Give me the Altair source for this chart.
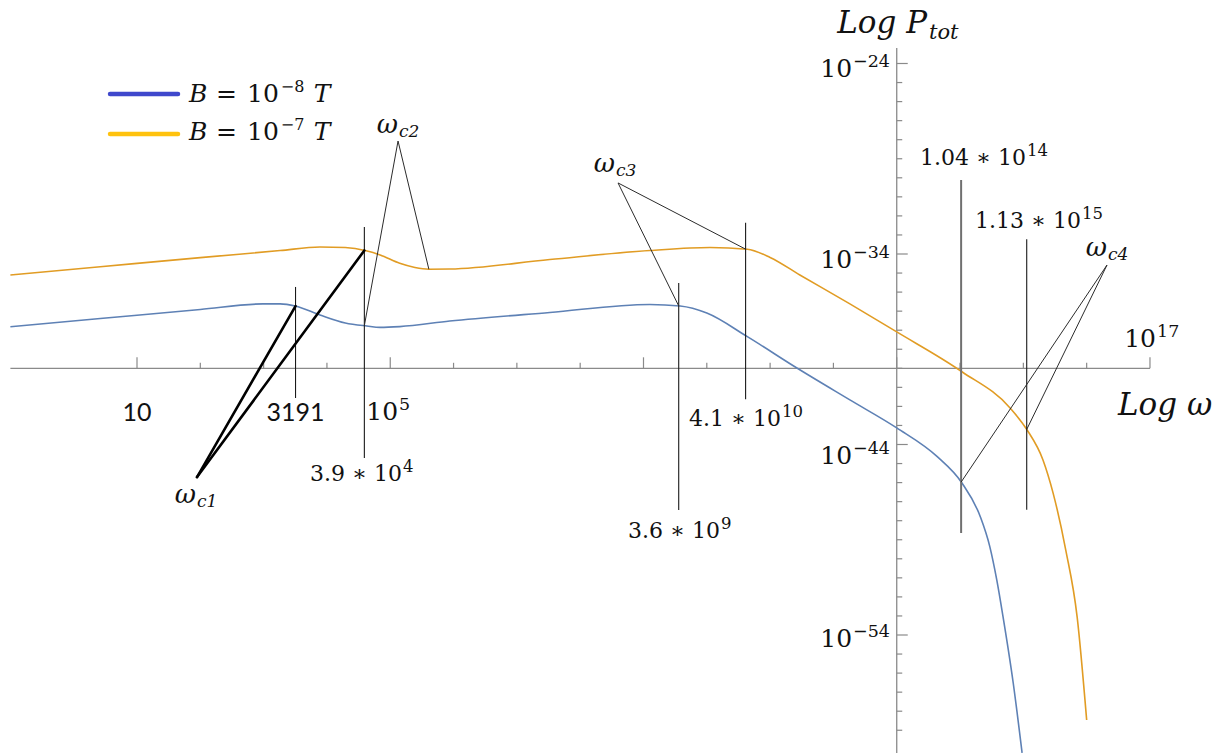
import altair as alt
import numpy as np
import pandas as pd

# ---------------- spectra: log10(omega) vs log10(P_tot) ----------------
series_names = ["B = 1e-8 T", "B = 1e-7 T"]
series_colors = ["#5E81B5", "#E19C24"]
swatch_colors = ["#3F48CC", "#FFC20E"]

log_w_b8 = [-1.0, 0.42, 2.0, 2.99, 3.26, 3.5, 3.89, 4.29, 4.63, 4.84, 5.15, 5.94,
            7.52, 9.1, 9.58, 10.0, 10.64, 11.43, 12.26, 13.0, 13.64, 14.03,
            14.32, 14.47, 14.58, 14.68, 14.84, 14.98]
log_p_b8 = [-37.82, -37.39, -36.91, -36.62, -36.62, -36.73, -37.20, -37.62, -37.78,
            -37.85, -37.81, -37.52, -37.07, -36.65, -36.73, -37.10, -38.34, -40.00,
            -41.66, -43.13, -44.64, -46.02, -47.79, -49.36, -51.11, -53.06, -56.52,
            -60.19]

log_w_b7 = [-1.0, 0.42, 2.0, 3.26, 3.89, 4.29, 4.62, 4.84, 5.15, 5.39, 5.61, 5.94,
            7.52, 9.1, 10.05, 10.64, 11.0, 11.47, 12.26, 13.0, 14.03, 14.79, 15.06,
            15.31, 15.47, 15.67, 15.85, 16.0]
log_p_b7 = [-35.10, -34.67, -34.19, -33.82, -33.63, -33.66, -33.83, -34.05, -34.49,
            -34.71, -34.80, -34.79, -34.29, -33.82, -33.66, -33.75, -34.18, -35.10,
            -36.62, -38.09, -40.18, -42.08, -43.24, -44.81, -46.55, -49.54, -53.06,
            -58.46]

# characteristic frequencies written as mantissa * 10^exponent
mark_mant = [3.9, 3.6, 4.1, 1.04, 1.13]
mark_exp = [4, 9, 10, 14, 15]
peak_b8 = 3191.0
min_b7 = 5.61  # log10 of the second turning point of the B = 1e-7 T curve

# axes: ticks every decade
x_tick_vals = list(range(1, 18))
x_major = [1, 5, 9, 13, 17]
y_tick_vals = list(range(-24, -60, -1))
y_major = [-24, -34, -44, -54]
x_axis_at = -40   # log10 P where the omega axis sits
y_axis_at = 13    # log10 omega where the P axis sits

# ---------------- scales ----------------
xs = alt.Scale(domain=[-1.164, 18.185], nice=False, zero=False)
ys = alt.Scale(domain=[-60.194, -20.667], nice=False, zero=False)


def X(f):
    return alt.X(f, type="quantitative", scale=xs, axis=None)


def Y(f):
    return alt.Y(f, type="quantitative", scale=ys, axis=None)


SERIF = "DejaVu Serif"
INK = "#111111"
AXIS = "#8a8a8a"

layers = []

# ---------------- axes ----------------
ax_df = pd.DataFrame({"x": [-1.0], "x2": [17.0], "y": [x_axis_at]})
layers.append(alt.Chart(ax_df).mark_rule(color=AXIS, strokeWidth=1.3).encode(
    x=X("x"), x2=alt.X2("x2"), y=Y("y")))
ay_df = pd.DataFrame({"x": [y_axis_at], "y": [-23.19], "y2": [-60.194]})
layers.append(alt.Chart(ay_df).mark_rule(color=AXIS, strokeWidth=1.3).encode(
    x=X("x"), y=Y("y"), y2=alt.Y2("y2")))

xt = pd.DataFrame({"x": x_tick_vals, "y": x_axis_at})
xt["major"] = xt["x"].isin(x_major)
layers.append(alt.Chart(xt[xt.major]).mark_rule(color=AXIS, strokeWidth=1.2, y2Offset=-11).encode(
    x=X("x"), y=Y("y"), y2=alt.Y2("y")))
layers.append(alt.Chart(xt[~xt.major]).mark_rule(color=AXIS, strokeWidth=1.2, y2Offset=-5.5).encode(
    x=X("x"), y=Y("y"), y2=alt.Y2("y")))

yt = pd.DataFrame({"y": y_tick_vals, "x": y_axis_at})
yt["major"] = yt["y"].isin(y_major)
layers.append(alt.Chart(yt[yt.major]).mark_rule(color=AXIS, strokeWidth=1.2, x2Offset=11).encode(
    x=X("x"), x2=alt.X2("x"), y=Y("y")))
layers.append(alt.Chart(yt[~yt.major]).mark_rule(color=AXIS, strokeWidth=1.2, x2Offset=5.5).encode(
    x=X("x"), x2=alt.X2("x"), y=Y("y")))

# ---------------- curves ----------------
curves = pd.concat([
    pd.DataFrame({"lw": log_w_b8, "lp": log_p_b8, "series": series_names[0]}),
    pd.DataFrame({"lw": log_w_b7, "lp": log_p_b7, "series": series_names[1]}),
])
layers.append(alt.Chart(curves).mark_line(strokeWidth=1.6, interpolate="monotone").encode(
    x=X("lw"), y=Y("lp"),
    color=alt.Color("series:N", scale=alt.Scale(domain=series_names, range=series_colors), legend=None),
    order=alt.Order("lw:Q")))

# ---------------- vertical markers at characteristic frequencies ----------------
marked_vals = [peak_b8] + [m * 10.0 ** e for m, e in zip(mark_mant, mark_exp)]
marked_log = [float(np.log10(v)) for v in marked_vals]
# order: 3191, 3.9e4, 3.6e9, 4.1e10, 1.04e14, 1.13e15
vspan_top = [-35.73, -32.58, -35.52, -32.36, -30.12, -33.23]
vspan_bot = [-41.56, -44.71, -47.44, -41.63, -48.65, -47.43]
vl = pd.DataFrame({"x": marked_log, "y": vspan_top, "y2": vspan_bot})
layers.append(alt.Chart(vl.drop(index=4)).mark_rule(color="#1a1a1a", strokeWidth=1.1).encode(
    x=X("x"), y=Y("y"), y2=alt.Y2("y2")))
layers.append(alt.Chart(vl.loc[[4]]).mark_rule(color="#707070", strokeWidth=2).encode(
    x=X("x"), y=Y("y"), y2=alt.Y2("y2")))


# ---------------- pointer lines from the omega_c labels ----------------
def on_b8(x):
    return float(np.interp(x, log_w_b8, log_p_b8))


def on_b7(x):
    return float(np.interp(x, log_w_b7, log_p_b7))


lg = dict(zip(["p", "c2", "c3", "c4", "c5", "c6"], marked_log))
apex = {"c1": (1.948, -45.71), "c2": (5.123, -28.07), "c3": (8.598, -30.27), "c4": (16.321, -34.58)}
targets = {
    "c1": [(lg["p"], on_b8(lg["p"])), (lg["c2"], on_b7(lg["c2"]))],
    "c2": [(lg["c2"], on_b8(lg["c2"])), (min_b7, on_b7(min_b7))],
    "c3": [(lg["c3"], on_b8(lg["c3"])), (lg["c4"], on_b7(lg["c4"]))],
    "c4": [(lg["c5"], on_b8(lg["c5"])), (lg["c6"], on_b7(lg["c6"]))],
}
rows = []
for k, tl in targets.items():
    ax_, ay_ = apex[k]
    for tx, ty in tl:
        rows.append({"k": k, "x": ax_, "y": ay_, "x2": tx, "y2": ty})
ptr = pd.DataFrame(rows)
layers.append(alt.Chart(ptr[ptr.k == "c1"]).mark_rule(color="#000000", strokeWidth=2.6, strokeCap="round").encode(
    x=X("x"), y=Y("y"), x2=alt.X2("x2"), y2=alt.Y2("y2")))
layers.append(alt.Chart(ptr[ptr.k != "c1"]).mark_rule(color="#2b2b2b", strokeWidth=1.0).encode(
    x=X("x"), y=Y("y"), x2=alt.X2("x2"), y2=alt.Y2("y2")))


# ---------------- text ----------------
def text_layer(df, tf, size, align, font=SERIF, style="normal", dx=0, dy=0, color=INK):
    return alt.Chart(df).mark_text(
        font=font, fontSize=size, fontStyle=style, align=align, baseline="alphabetic",
        dx=dx, dy=dy, color=color,
    ).encode(x=X("x"), y=Y("y"), text=alt.Text(tf, type="nominal"))


# values of the characteristic frequencies
val_lab = pd.DataFrame({
    "x": [5.186, 10.209, 11.172, 15.042, 15.911],
    "y": [-45.92, -48.91, -43.03, -29.33, -32.64],
    "base": [f"{m} \u2217 10" for m in mark_mant],
    "sup": [str(e) for e in mark_exp],
})
layers.append(text_layer(val_lab, "base", 22, "right"))
layers.append(text_layer(val_lab, "sup", 16.5, "left", dx=1, dy=-9))

# power-of-ten tick labels
tick_lab = pd.DataFrame({
    "x": [5.123, 17.095, 12.294, 12.294, 12.294, 12.294],
    "y": [-42.71, -38.88, -24.71, -34.74, -45.02, -54.63],
    "base": ["10"] * 6,
    "sup": ["5", "17", "\u221224", "\u221234", "\u221244", "\u221254"],
})
layers.append(text_layer(tick_lab, "base", 25, "right"))
layers.append(text_layer(tick_lab, "sup", 17.5, "left", dx=1, dy=-10))

# plain tick labels
plain_lab = pd.DataFrame({"x": [1.0, float(np.log10(peak_b8))], "y": [-42.77, -42.77],
                          "t": ["10", str(int(peak_b8))]})
layers.append(text_layer(plain_lab, "t", 25, "center", font="Lato"))

# omega_c labels
om_lab = pd.DataFrame({
    "x": [1.932, 5.123, 8.550, 16.321],
    "y": [-47.07, -27.65, -29.70, -34.11],
    "w": ["\u03c9"] * 4,
    "sub": ["c1", "c2", "c3", "c4"],
})
layers.append(text_layer(om_lab, "w", 26, "right", style="italic"))
layers.append(text_layer(om_lab, "sub", 17, "left", style="italic", dx=1, dy=4))

# axis titles
t1 = pd.DataFrame({"x": [13.478], "y": [-22.40], "t": ["Log P"], "s": ["tot"]})
layers.append(text_layer(t1, "t", 31, "right", style="italic"))
layers.append(text_layer(t1, "s", 21, "left", style="italic", dx=2, dy=6))
t2 = pd.DataFrame({"x": [16.495], "y": [-42.45], "t": ["Log \u03c9"]})
layers.append(text_layer(t2, "t", 31, "left", style="italic"))

# legend: swatches
leg_y = [-25.60, -27.70]
for i in range(2):
    sw = pd.DataFrame({"x": [0.574], "x2": [1.648], "y": [leg_y[i]]})
    layers.append(alt.Chart(sw).mark_rule(strokeWidth=4.5, strokeCap="round", color=swatch_colors[i]).encode(
        x=X("x"), x2=alt.X2("x2"), y=Y("y")))

# legend: labels "B = 10^-8 T" and "B = 10^-7 T"
leg_base = [-26.02, -28.02]
leg_it = pd.DataFrame({"x": [1.821, 3.79] * 2, "y": [leg_base[0]] * 2 + [leg_base[1]] * 2,
                       "t": ["B", "T", "B", "T"]})
layers.append(text_layer(leg_it, "t", 25, "left", style="italic"))
leg_up = pd.DataFrame({"x": [2.248, 2.737] * 2, "y": [leg_base[0]] * 2 + [leg_base[1]] * 2,
                       "t": ["=", "10", "=", "10"]})
layers.append(text_layer(leg_up, "t", 25, "left"))
leg_sup = pd.DataFrame({"x": [3.27, 3.27], "y": leg_base, "t": ["\u22128", "\u22127"]})
layers.append(text_layer(leg_sup, "t", 16, "left", dy=-10))

chart = alt.layer(*layers).properties(
    width=1225, height=753, padding=0,
    autosize=alt.AutoSizeParams(type="none"), background="white",
).configure_view(stroke=None)

chart.save("out.html", embed_options={"renderer": "svg", "actions": False})
